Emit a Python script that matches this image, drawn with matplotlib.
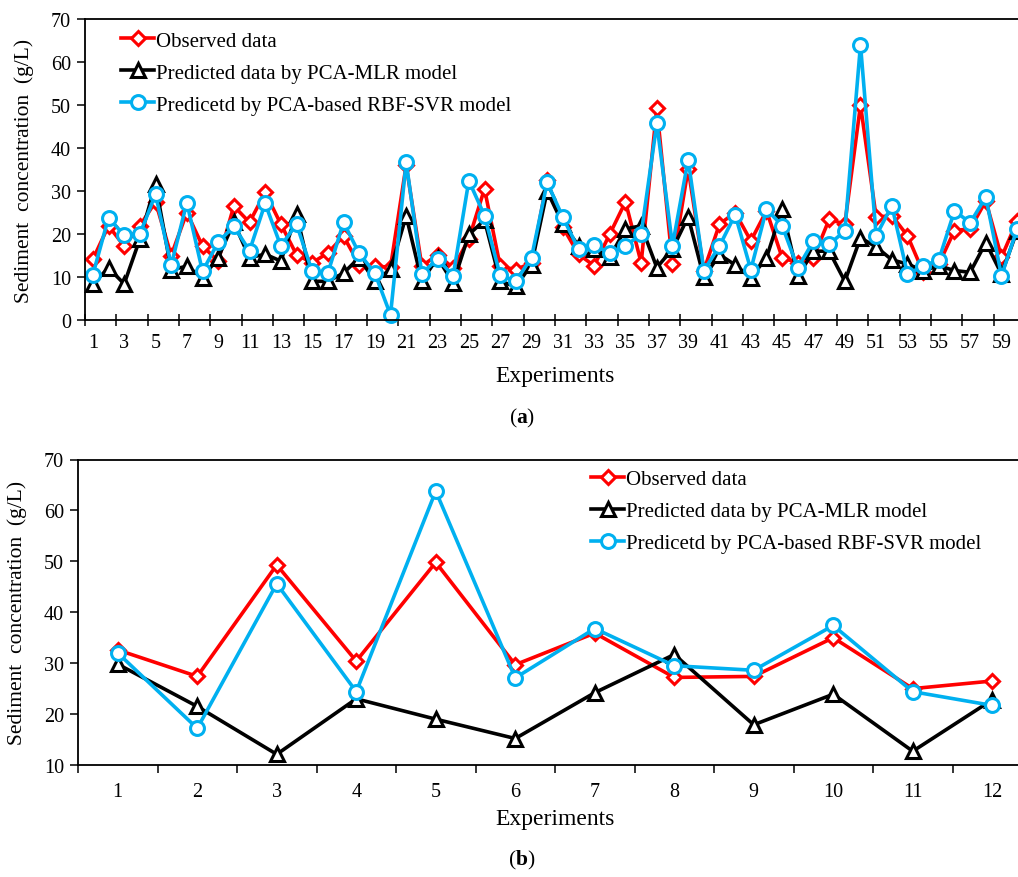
import matplotlib
matplotlib.use("Agg")
import matplotlib.pyplot as plt
import numpy as np

plt.rcParams["font.family"] = ["Liberation Serif", "DejaVu Serif"]
plt.rcParams["mathtext.fontset"] = "custom"
plt.rcParams["mathtext.rm"] = "Liberation Serif"
plt.rcParams["mathtext.bf"] = "Liberation Serif:bold"

# full data set, 60 experiments
observed = [14.1, 21.9, 17.2, 21.9, 27.5, 15.0, 25.0, 17.2, 13.7, 26.5,
            22.7, 29.7, 22.3, 15.2, 13.3, 15.6, 19.5, 12.9, 12.5, 12.3,
            36.0, 12.5, 15.2, 12.1, 18.8, 30.5, 12.5, 11.7, 13.3, 32.5,
            21.6, 15.3, 12.6, 20.0, 27.5, 13.3, 49.3, 13.0, 35.2, 11.5,
            22.3, 25.0, 18.4, 25.4, 14.5, 13.3, 14.5, 23.4, 22.3, 50.0,
            23.9, 24.3, 19.6, 11.1, 13.0, 20.8, 21.2, 27.7, 14.6, 23.1]
pred_mlr = [8.4, 12.1, 8.4, 18.8, 31.6, 11.7, 12.5, 9.8, 14.5, 22.7,
            14.5, 15.3, 13.7, 24.6, 9.0, 9.0, 10.9, 14.5, 9.0, 11.8,
            24.2, 9.0, 14.5, 8.6, 19.9, 23.2, 9.0, 7.8, 12.9, 30.0,
            22.3, 17.3, 16.5, 14.6, 21.2, 21.9, 12.2, 16.5, 24.0, 9.9,
            15.2, 12.8, 9.8, 14.5, 25.8, 10.2, 16.0, 16.0, 9.0, 19.1,
            17.0, 14.0, 13.0, 11.5, 12.6, 11.5, 11.1, 18.0, 10.7, 20.8]
pred_svr = [10.5, 23.8, 19.7, 19.9, 29.3, 12.7, 27.3, 11.3, 18.1, 21.8,
            16.1, 27.1, 17.2, 22.3, 11.3, 10.9, 22.7, 15.5, 10.9, 1.2,
            36.7, 10.8, 14.2, 10.3, 32.4, 24.3, 10.4, 9.0, 14.5, 32.0,
            23.9, 16.5, 17.4, 15.6, 17.2, 20.0, 45.7, 17.3, 37.3, 11.5,
            17.2, 24.5, 11.7, 25.8, 21.9, 12.1, 18.4, 17.6, 20.7, 64.0,
            19.6, 26.6, 10.7, 12.5, 14.0, 25.4, 22.6, 28.6, 10.3, 21.2]

# test subset, 12 experiments
test_observed = [32.6, 27.4, 49.3, 30.4, 49.8, 29.7, 35.9, 27.2, 27.4, 35.0, 25.0, 26.5]
test_mlr = [29.8, 21.5, 12.1, 23.0, 19.0, 15.2, 24.2, 31.7, 17.9, 23.9, 12.7, 22.8]
test_svr = [32.0, 17.2, 45.6, 24.4, 63.8, 27.1, 36.8, 29.5, 28.6, 37.4, 24.4, 21.7]

labels = ["Observed data", "Predicted data by PCA-MLR model",
          "Predicetd by PCA-based RBF-SVR model"]
styles = [dict(color="#FF0000", marker="D", ms=7.5),
          dict(color="black", marker="^", ms=9.5),
          dict(color="#00B0F0", marker="o", ms=10)]

fig = plt.figure(figsize=(10.18, 8.78), dpi=100)


def draw_series(ax, x, series):
    for vals, lab, st in zip(series, labels, styles):
        ax.plot(x, vals, color=st["color"], lw=2.6, marker=st["marker"],
                ms=st["ms"], mfc="white", mec=st["color"], mew=2.2,
                label=lab, clip_on=False)


def style_axes(ax):
    ax.spines["right"].set_visible(False)
    for s in ["top", "bottom", "left"]:
        ax.spines[s].set_linewidth(1.3)
    ax.set_ylabel("Sediment  concentration  (g/L)", fontsize=15.5, labelpad=12)
    ax.tick_params(axis="y", direction="out", length=6, width=1.1, labelsize=14.5, pad=4)


def add_legend(ax, anchor):
    ax.legend(loc="upper left", bbox_to_anchor=anchor, frameon=False,
              fontsize=15, handlelength=1.6, handletextpad=0.1, labelspacing=0.6,
              borderaxespad=0, borderpad=0)


# (a) all experiments
ax1 = fig.add_axes([85 / 1018, 1 - 321 / 878, 940 / 1018, 301 / 878])
n = len(observed)
x1 = np.arange(1, n + 1)
draw_series(ax1, x1, [observed, pred_mlr, pred_svr])
ax1.set_xlim(0.5, n + 0.5)
ax1.set_ylim(0, 70)
ax1.set_yticks(range(0, 71, 10))
ax1.set_xticks(np.arange(0.5, n + 1, 2), labels=[])
ax1.set_xticks(np.arange(1, n + 1, 2), labels=[str(i) for i in range(1, n + 1, 2)], minor=True)
ax1.tick_params(axis="x", which="major", direction="inout", length=8, width=1.1)
ax1.tick_params(axis="x", which="minor", length=0, labelsize=14.5, pad=9)
style_axes(ax1)
ax1.set_xlabel("Experiments", fontsize=17, labelpad=10)
add_legend(ax1, (36 / 940, 1 - 12 / 301))

# (b) test experiments
ax2 = fig.add_axes([78 / 1018, 1 - 766 / 878, 954 / 1018, 305.5 / 878])
m = len(test_observed)
x2 = np.arange(1, m + 1)
draw_series(ax2, x2, [test_observed, test_mlr, test_svr])
ax2.set_xlim(0.5, m + 0.5)
ax2.set_ylim(10, 70)
ax2.set_yticks(range(10, 71, 10))
ax2.set_xticks(np.arange(0.5, m + 1, 1), labels=[])
ax2.set_xticks(x2, labels=[str(i) for i in x2], minor=True)
ax2.tick_params(axis="x", which="major", direction="out", length=6, width=1.1)
ax2.tick_params(axis="x", which="minor", length=0, labelsize=14.5, pad=12)
style_axes(ax2)
ax2.set_xlabel("Experiments", fontsize=17, labelpad=5)
add_legend(ax2, (513 / 954, 1 - 10 / 305.5))

fig.text(522 / 1018, 1 - 418 / 878, r"($\mathbf{a}$)", ha="center", va="center", fontsize=15.5)
fig.text(522 / 1018, 1 - 860 / 878, r"($\mathbf{b}$)", ha="center", va="center", fontsize=15.5)

fig.savefig("out.png", dpi=100)
